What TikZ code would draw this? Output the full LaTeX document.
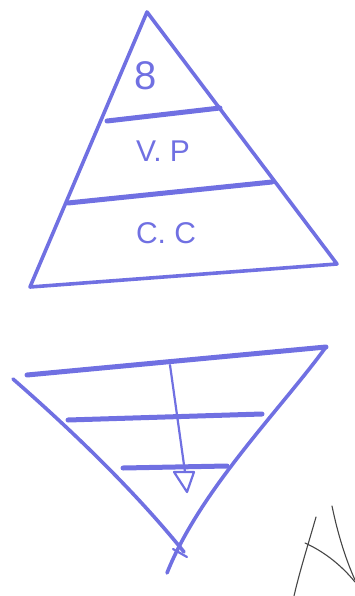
\documentclass[tikz,border=0pt]{standalone}
\usepackage{fontspec}
\setmainfont{Liberation Sans}
\usetikzlibrary{arrows.meta}
\definecolor{pen}{RGB}{112,112,226}
\definecolor{pencil}{RGB}{70,70,70}
\tikzset{
  edge/.style={draw=pen,line width=3.6pt,line cap=round,line join=round},
  band/.style={draw=pen,line width=5pt,line cap=round},
  thin/.style={draw=pen,line width=2.2pt,line cap=round},
  label/.style={text=pen,font=\fontsize{30}{30}\selectfont},
  sketch/.style={draw=pencil,line width=1.1pt,line cap=round}
}
\begin{document}
\begin{tikzpicture}[x=1pt,y=-1pt]
\useasboundingbox (0,0) rectangle (355,596);
% top triangle
\coordinate (apex) at (147,12);
\coordinate (bl) at (30,287);
\coordinate (br) at (337,264);
\draw[edge] (bl) -- (apex) -- (br) -- cycle;
\draw[band] (107,121) -- (220,108);
\draw[band] (68,203) -- (272,182);
\node[label,font=\fontsize{40}{40}\selectfont] (s) at (146,76) {8};
\node[label] (vp) at (163,151) {V. P};
\node[label] (cc) at (166,233) {C. C};
% bottom triangle
\coordinate (tl) at (27,375);
\coordinate (tr) at (326,347);
\draw[band] (tl) -- (tr);
\draw[edge] (tr) .. controls (280,410) and (200,490) .. (167,573);
\draw[edge] (13,379) .. controls (60,420) and (130,485) .. (184,552);
\draw[thin] (173,549) -- (187,557);
\draw[band] (68,420) -- (262,414);
\draw[band] (123,468) -- (227,466);
% arrow
\coordinate (ta) at (170,365);
\coordinate (ha) at (185,472);
\coordinate (hp) at (187,492);
\draw[thin] (ta) -- (ha);
\draw[thin,line join=round] (174,472) -- (hp) -- (194,472) -- cycle;
% pencil sketch
\draw[sketch] (316,517) .. controls (308,545) and (300,570) .. (294,596);
\draw[sketch] (332,506) .. controls (338,535) and (346,560) .. (355,580);
\draw[sketch] (305,543) .. controls (325,552) and (342,566) .. (355,582);
\end{tikzpicture}
\end{document}
